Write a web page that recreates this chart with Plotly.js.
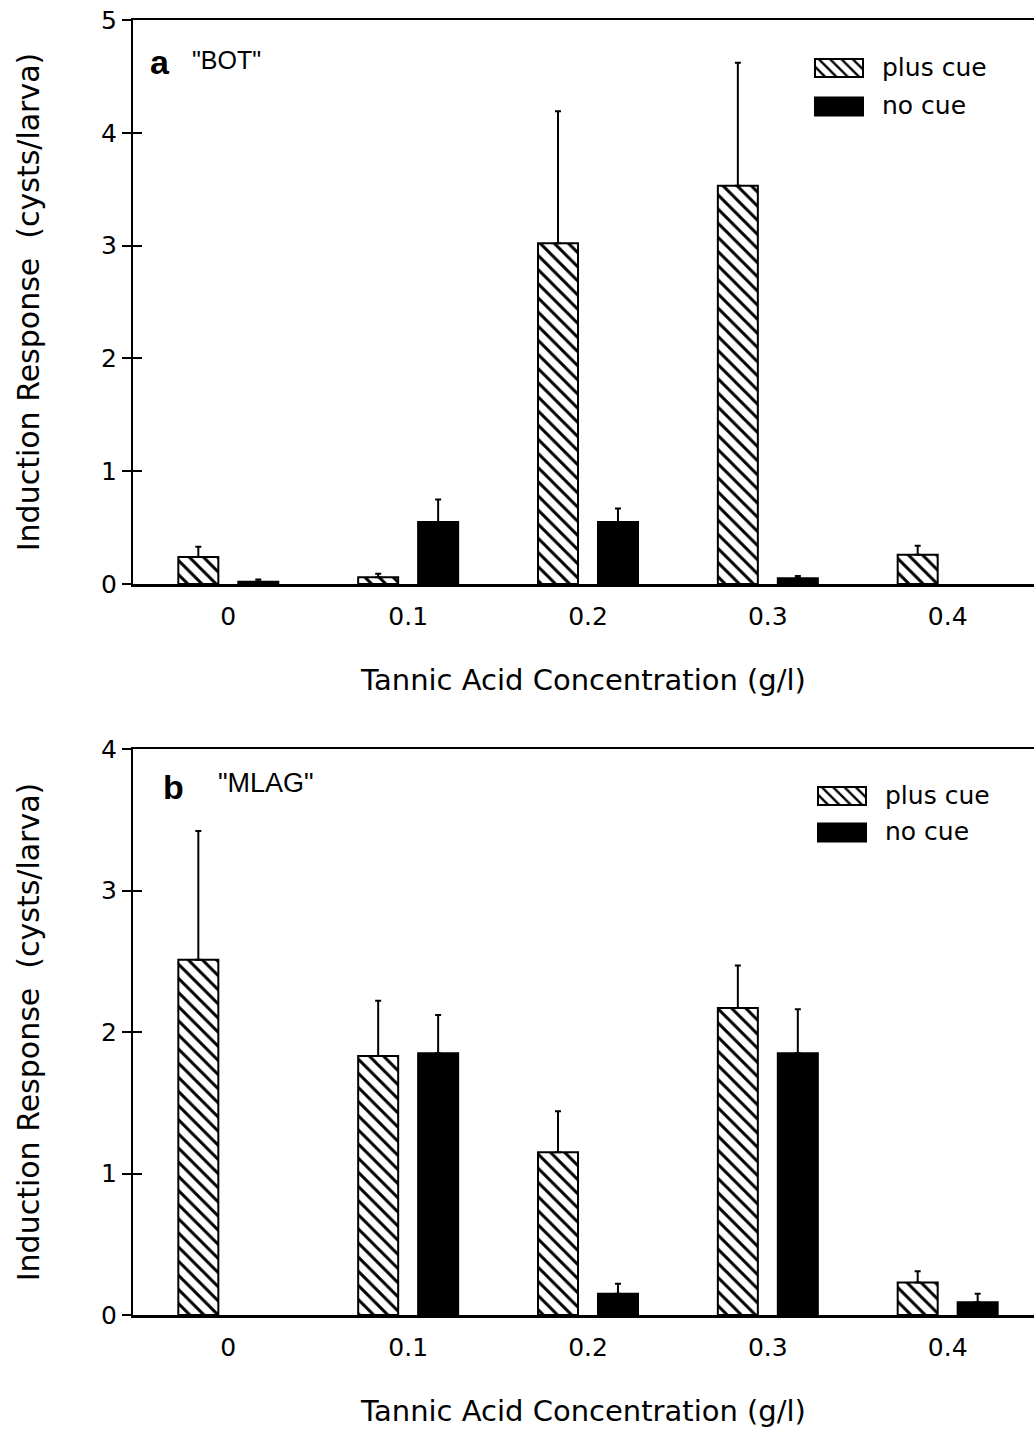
<!DOCTYPE html>
<html>
<head>
<meta charset="utf-8">
<script src="https://cdn.plot.ly/plotly-3.0.1.min.js"></script>
<style>
  html, body { margin: 0; padding: 0; background: #fff; }
  #chart { width: 1034px; height: 1432px; }
</style>
</head>
<body>
<div id="chart"></div>
<script>
// Tannic acid concentrations (g/l) on the category axis
const concentrations = ['0', '0.1', '0.2', '0.3', '0.4'];

// Panel a, strain "BOT": means and upper error (cysts/larva)
const botPlusCue = [0.24, 0.06, 3.02, 3.53, 0.26];
const botPlusCueErr = [0.09, 0.03, 1.17, 1.09, 0.08];
const botNoCue = [0.02, 0.55, 0.55, 0.05, null];
const botNoCueErr = [0.02, 0.20, 0.12, 0.02, null];

// Panel b, strain "MLAG"
const mlagPlusCue = [2.51, 1.83, 1.15, 2.17, 0.23];
const mlagPlusCueErr = [0.91, 0.39, 0.29, 0.30, 0.08];
const mlagNoCue = [null, 1.85, 0.15, 1.85, 0.09];
const mlagNoCueErr = [null, 0.27, 0.07, 0.31, 0.06];

const FONT = 'DejaVu Sans, Arial, sans-serif';
const W = 1034, H = 1432, L = 133;
const px = v => (v - L) / (W - L);   // pixel x -> paper x
const py = v => 1 - v / H;            // pixel y -> paper y

function errUp(arr) {
  return {
    type: 'data', symmetric: false, array: arr,
    arrayminus: arr.map(() => 0),
    color: '#000', thickness: 2, width: 3
  };
}

function hatchedBar(y, err, xa, ya, leg, grp) {
  return {
    type: 'bar', name: 'plus cue', x: concentrations, y: y,
    xaxis: xa, yaxis: ya, legend: leg, legendgroup: grp,
    marker: {
      color: '#fff',
      line: { color: '#000', width: 2 },
      pattern: { shape: '\\', fgcolor: '#000', bgcolor: '#fff', size: 10, solidity: 0.3 }
    },
    error_y: errUp(err), hoverinfo: 'x+y'
  };
}

function solidBar(y, err, xa, ya, leg, grp) {
  return {
    type: 'bar', name: 'no cue', x: concentrations, y: y,
    xaxis: xa, yaxis: ya, legend: leg, legendgroup: grp,
    marker: { color: '#000', line: { color: '#000', width: 2 } },
    error_y: errUp(err), hoverinfo: 'x+y'
  };
}

// Transparent carriers so the inner-tick companion axes get drawn
function tickCarrier(y, ya, xa) {
  return {
    type: 'scatter', mode: 'lines', x: concentrations, y: y,
    xaxis: xa, yaxis: ya, line: { width: 0 }, opacity: 0,
    showlegend: false, hoverinfo: 'skip'
  };
}

const traces = [
  hatchedBar(botPlusCue, botPlusCueErr, 'x', 'y', 'legend', 'a-plus'),
  solidBar(botNoCue, botNoCueErr, 'x', 'y', 'legend', 'a-no'),
  hatchedBar(mlagPlusCue, mlagPlusCueErr, 'x2', 'y2', 'legend2', 'b-plus'),
  solidBar(mlagNoCue, mlagNoCueErr, 'x2', 'y2', 'legend2', 'b-no'),
  tickCarrier(botPlusCue, 'y3', 'x'),
  tickCarrier(mlagPlusCue, 'y4', 'x2')
];

const xRange = [-0.53, 4.48];

function xAxis(anchor) {
  return {
    anchor: anchor, domain: [0, 1], range: xRange, type: 'category',
    showline: true, linecolor: '#000', linewidth: 2.5, mirror: true,
    ticks: '', showgrid: false, zeroline: false, ticklabelstandoff: 8,
    tickfont: { family: FONT, size: 25, color: '#000' },
    title: { text: 'Tannic Acid Concentration (g/l)', standoff: 40,
             font: { family: FONT, size: 29, color: '#000' } }
  };
}

function yAxis(anchor, domain, top) {
  return {
    anchor: anchor, domain: domain, range: [0, top], dtick: 1,
    showline: true, linecolor: '#000', linewidth: 2,
    ticks: 'outside', ticklen: 9, tickwidth: 2, tickcolor: '#000',
    showgrid: false, zeroline: false,
    tickfont: { family: FONT, size: 25, color: '#000' },
    title: { text: 'Induction Response\u00a0\u00a0(cysts/larva)', standoff: 53,
             font: { family: FONT, size: 30, color: '#000' } }
  };
}

// Companion axes that carry the inward half of each tick mark
function innerTicks(over, anchor, top) {
  return {
    overlaying: over, anchor: anchor, side: 'left',
    range: [0, top], dtick: 1, showticklabels: false, showline: false,
    ticks: 'inside', ticklen: 9, tickwidth: 2, tickcolor: '#000',
    showgrid: false, zeroline: false
  };
}

function legendAt(xPix, yPix, gap) {
  return {
    x: px(xPix), xanchor: 'left', y: py(yPix), yanchor: 'top',
    bgcolor: 'rgba(0,0,0,0)', borderwidth: 0,
    font: { family: FONT, size: 25, color: '#000' },
    traceorder: 'grouped', tracegroupgap: gap, itemwidth: 60
  };
}

const layout = {
  width: W, height: H,
  margin: { l: L, r: 0, t: 0, b: 0 },
  paper_bgcolor: '#fff', plot_bgcolor: '#fff',
  barmode: 'group', bargap: 0.333, bargroupgap: 0.333,
  font: { family: FONT, color: '#000' },
  xaxis: xAxis('y'),
  yaxis: yAxis('x', [py(584), py(20)], 5),
  xaxis2: xAxis('y2'),
  yaxis2: yAxis('x2', [py(1315), py(749)], 4),
  yaxis3: innerTicks('y', 'x', 5),
  yaxis4: innerTicks('y2', 'x2', 4),
  legend: legendAt(812, 43, 3),
  legend2: legendAt(815, 771, 1),
  annotations: [
    { xref: 'paper', yref: 'paper', x: px(148), y: py(62), xanchor: 'left', yanchor: 'middle',
      text: '<b>a</b>', showarrow: false, font: { family: 'Liberation Sans, Arial', size: 34, color: '#000' } },
    { xref: 'paper', yref: 'paper', x: px(190), y: py(60), xanchor: 'left', yanchor: 'middle',
      text: '"BOT"', showarrow: false, font: { family: 'Liberation Sans Narrow, Liberation Sans, Arial', size: 25, color: '#000' } },
    { xref: 'paper', yref: 'paper', x: px(161), y: py(787), xanchor: 'left', yanchor: 'middle',
      text: '<b>b</b>', showarrow: false, font: { family: 'Liberation Sans, Arial', size: 34, color: '#000' } },
    { xref: 'paper', yref: 'paper', x: px(216), y: py(783), xanchor: 'left', yanchor: 'middle',
      text: '"MLAG"', showarrow: false, font: { family: 'Liberation Sans Narrow, Liberation Sans, Arial', size: 27, color: '#000' } }
  ]
};

// Legend swatches as wide flat rectangles with a fixed gap before the label
function widenSwatches() {
  document.querySelectorAll('.legendpoints path').forEach(path => {
    let g = path.parentNode;
    while (g && g.querySelector && !g.querySelector('text')) g = g.parentNode;
    const label = g && g.querySelector ? g.querySelector('text') : null;
    if (!label) return;
    path.setAttribute('d', 'M-24,-9H24V9H-24Z');
    path.removeAttribute('transform');
    const pr = path.getBoundingClientRect();
    const tr = label.getBoundingClientRect();
    const cx = pr.left + pr.width / 2, cy = pr.top + pr.height / 2;
    const dx = (tr.left - 43) - cx;
    const dy = (tr.top + tr.height / 2 + 1) - cy;
    path.setAttribute('transform', 'translate(' + dx.toFixed(1) + ',' + dy.toFixed(1) + ')');
  });
}

const gd = document.getElementById('chart');
Plotly.newPlot(gd, traces, layout, { staticPlot: true }).then(widenSwatches);
</script>
</body>
</html>
